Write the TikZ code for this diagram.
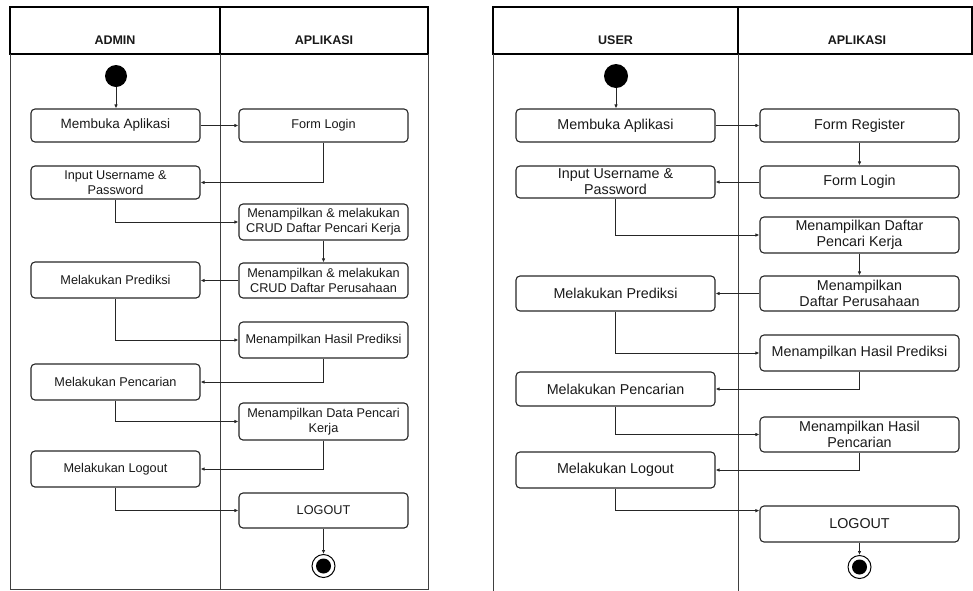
\documentclass[tikz,border=0pt]{standalone}
\usepackage{fontspec}
\setmainfont{Liberation Sans}
\usetikzlibrary{arrows.meta,calc}

\begin{document}
\begin{tikzpicture}[x=1pt,y=-1pt,
  act/.style={draw=black!85, line width=1.1pt, rounded corners=4pt,
    font=\fontsize{12.7}{15}\selectfont, align=center, inner sep=0pt, text=black!90},
  bigact/.style={act, font=\fontsize{14.3}{16}\selectfont},
  flow/.style={draw=black!85, line width=0.8pt, -{Latex[length=4pt,width=3.5pt]}},
  lane/.style={draw=black!75, line width=1pt},
  head/.style={draw=black, line width=2pt},
  headtext/.style={font=\fontsize{12.5}{15}\selectfont\bfseries, text=black!90},
  startdot/.style={circle, fill=black, inner sep=0pt, minimum size=22pt},
  enddot/.style={circle, draw=black, line width=1pt, fill=white, inner sep=0pt, minimum size=23pt,
    path picture={\fill[black] (path picture bounding box.center) circle (7.5pt);}},
]
\useasboundingbox (0,0) rectangle (973,590);

% ---------- swimlanes: admin ----------
\draw[head] (10,7) rectangle (220,54);
\draw[head] (220,7) rectangle (428,54);
\draw[lane] (10,54) -- (10,589) -- (428,589) -- (428,54);
\draw[lane] (220,54) -- (220,589);
\node[headtext] (hAdmin) at (115,40.5) {ADMIN};
\node[headtext] (hApp1) at (324,40.5) {APLIKASI};

% ---------- swimlanes: user ----------
\draw[head] (493,7) rectangle (738,54);
\draw[head] (738,7) rectangle (972,54);
\draw[lane] (493,54) -- (493,591);
\draw[lane] (738,54) -- (738,591);
\node[headtext] (hUser) at (615.5,40.5) {USER};
\node[headtext] (hApp2) at (857,40.5) {APLIKASI};

% ---------- admin activities ----------
\node[startdot] (S1) at (116,76) {};
\node[act, minimum width=169pt, minimum height=33pt, font=\fontsize{13.5}{15}\selectfont] (L1) at (115.5,125.5) {Membuka Aplikasi};
\node[act, minimum width=169pt, minimum height=33pt] (L2) at (115.5,182.5) {Input Username \&\\Password};
\node[act, minimum width=169pt, minimum height=36pt] (L3) at (115.5,280) {Melakukan Prediksi};
\node[act, minimum width=169pt, minimum height=36pt] (L4) at (115.5,382) {Melakukan Pencarian};
\node[act, minimum width=169pt, minimum height=36pt] (L5) at (115.5,469) {Melakukan Logout};

\node[act, minimum width=169pt, minimum height=33pt] (R1) at (323.5,125.5) {Form Login};
\node[act, minimum width=169pt, minimum height=36pt] (R2) at (323.5,222) {Menampilkan \& melakukan\\CRUD Daftar Pencari Kerja};
\node[act, minimum width=169pt, minimum height=35pt] (R3) at (323.5,280.5) {Menampilkan \& melakukan\\CRUD Daftar Perusahaan};
\node[act, minimum width=169pt, minimum height=36pt] (R4) at (323.5,340) {Menampilkan Hasil Prediksi};
\node[act, minimum width=169pt, minimum height=37pt] (R5) at (323.5,421.5) {Menampilkan Data Pencari\\Kerja};
\node[act, minimum width=169pt, minimum height=35pt] (R6) at (323.5,510.5) {LOGOUT};
\node[enddot] (E1) at (323.5,566) {};

\draw[flow] (S1) -- (S1 |- L1.north);
\draw[flow] (L1) -- (R1);
\draw[flow] (R1.south) |- (L2.east);
\draw[flow] (L2.south) |- (R2.west);
\draw[flow] (R2) -- (R3);
\draw[flow] (R3.west) -- (R3.west -| L3.east);
\draw[flow] (L3.south) |- (R4.west);
\draw[flow] (R4.south) |- (L4.east);
\draw[flow] (L4.south) |- (R5.west);
\draw[flow] (R5.south) |- (L5.east);
\draw[flow] (L5.south) |- (R6.west);
\draw[flow] (R6) -- (E1);

% ---------- user activities ----------
\node[startdot, minimum size=24pt] (S2) at (616,76) {};
\node[bigact, minimum width=199pt, minimum height=33pt] (UL1) at (615.5,125.5) {Membuka Aplikasi};
\node[bigact, minimum width=199pt, minimum height=32pt] (UL2) at (615.5,182) {Input Username \&\\Password};
\node[bigact, minimum width=199pt, minimum height=35pt] (UL3) at (615.5,293.5) {Melakukan Prediksi};
\node[bigact, minimum width=199pt, minimum height=34pt] (UL4) at (615.5,389) {Melakukan Pencarian};
\node[bigact, minimum width=199pt, minimum height=36pt] (UL5) at (615.5,470) {Melakukan Logout};

\node[bigact, minimum width=199pt, minimum height=33pt] (UR1) at (859.5,125.5) {Form Register};
\node[bigact, minimum width=199pt, minimum height=32pt] (UR2) at (859.5,182) {Form Login};
\node[bigact, minimum width=199pt, minimum height=36pt] (UR3) at (859.5,235) {Menampilkan Daftar\\Pencari Kerja};
\node[bigact, minimum width=199pt, minimum height=35pt] (UR4) at (859.5,293.5) {Menampilkan\\Daftar Perusahaan};
\node[bigact, minimum width=199pt, minimum height=36pt] (UR5) at (859.5,353) {Menampilkan Hasil Prediksi};
\node[bigact, minimum width=199pt, minimum height=35pt] (UR6) at (859.5,434.5) {Menampilkan Hasil\\Pencarian};
\node[bigact, minimum width=199pt, minimum height=36pt] (UR7) at (859.5,524) {LOGOUT};
\node[enddot] (E2) at (859.5,567) {};

\coordinate (UR7in) at ($(UR7.north west)!0.14!(UR7.south west)$);

\draw[flow] (S2) -- (S2 |- UL1.north);
\draw[flow] (UL1) -- (UR1);
\draw[flow] (UR1) -- (UR2);
\draw[flow] (UR2) -- (UL2);
\draw[flow] (UL2.south) |- (UR3.west);
\draw[flow] (UR3) -- (UR4);
\draw[flow] (UR4) -- (UL3);
\draw[flow] (UL3.south) |- (UR5.west);
\draw[flow] (UR5.south) |- (UL4.east);
\draw[flow] (UL4.south) |- (UR6.west);
\draw[flow] (UR6.south) |- (UL5.east);
\draw[flow] (UL5.south) |- (UR7in);
\draw[flow] (UR7) -- (E2);
\end{tikzpicture}
\end{document}
